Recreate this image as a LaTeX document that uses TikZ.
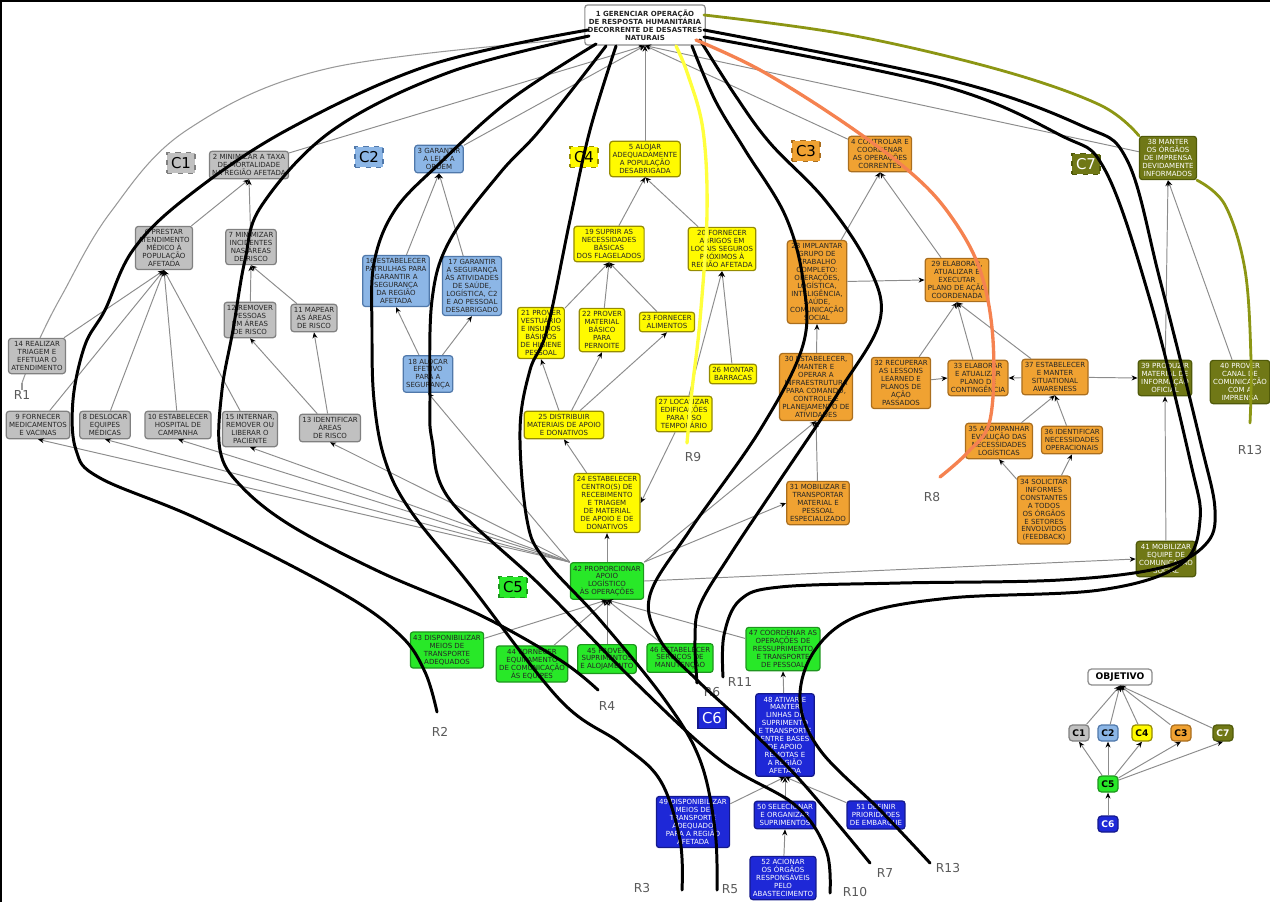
\documentclass[tikz,border=0pt]{standalone}
\usepackage{fontspec}
\setmainfont{DejaVu Sans}
\usetikzlibrary{arrows.meta,positioning}
\definecolor{cgray}{RGB}{192,192,192}
\definecolor{cgrayd}{RGB}{128,128,128}
\definecolor{cblue}{RGB}{140,182,230}
\definecolor{cblued}{RGB}{80,120,170}
\definecolor{cyellow}{RGB}{255,250,0}
\definecolor{cyellowd}{RGB}{150,140,0}
\definecolor{corange}{RGB}{240,162,50}
\definecolor{coranged}{RGB}{170,110,30}
\definecolor{colive}{RGB}{112,120,22}
\definecolor{colived}{RGB}{80,90,10}
\definecolor{cgreen}{RGB}{40,232,40}
\definecolor{cgreend}{RGB}{30,150,30}
\definecolor{cnavy}{RGB}{30,40,215}
\definecolor{cnavyd}{RGB}{20,25,140}
\definecolor{rsalmon}{RGB}{245,130,80}
\definecolor{ryellow}{RGB}{255,255,60}
\definecolor{rolive}{RGB}{140,150,20}
\newcommand{\nodefont}{\fontsize{4}{4.5}\selectfont}

\begin{document}
\begin{tikzpicture}[x=0.02cm, y=-0.02cm,
    box/.style={draw, rounded corners=1.6pt, align=center, font=\nodefont,
                inner xsep=1.6pt, inner ysep=1.8pt, line width=0.7pt, text=black!85},
    mortal/.style={box, fill=cgray, draw=cgrayd},
    lei/.style={box, fill=cblue, draw=cblued},
    alojar/.style={box, fill=cyellow, draw=cyellowd},
    controle/.style={box, fill=corange, draw=coranged},
    imprensa/.style={box, fill=colive, draw=colived, text=white},
    apoio/.style={box, fill=cgreen, draw=cgreend},
    linhas/.style={box, fill=cnavy, draw=cnavyd, text=white},
    tagbox/.style={draw, dashed, line width=0.6pt, minimum width=0.56cm,
                   minimum height=0.42cm, inner sep=0pt, font=\fontsize{8.5}{8.5}\selectfont},
    legbox/.style={draw, rounded corners=2pt, line width=0.7pt, minimum width=0.4cm,
                   minimum height=0.32cm, inner sep=0pt, font=\bfseries\fontsize{5.2}{5.2}\selectfont},
    arr/.style={draw=black!45, line width=0.55pt, -{Stealth[length=1.2mm, width=1mm, color=black]}},
    rota/.style={line width=1.7pt, line cap=round, line join=round},
    rlab/.style={font=\fontsize{7}{7}\selectfont, text=black!65, inner sep=0pt}
]
\useasboundingbox (0,0) rectangle (1270,902);
\draw[line width=1.2pt] (1,902) -- (1,1) -- (1270,1);

% R1 runs behind node 14
\coordinate (r1e) at (22,383);
\draw[black!40, line width=0.6pt] plot[smooth, tension=0.6] coordinates {(r1e) (28,367) (40,338) (62,295) (110,213) (187,130) (330,68) (588,38)};

% Objective
\node[box, fill=white, draw=black!45, font=\nodefont\bfseries, minimum width=2.32cm,
      minimum height=0.8cm] (root) at (645,25)
  {1 GERENCIAR OPERAÇÃO\\DE RESPOSTA HUMANITÁRIA\\DECORRENTE DE DESASTRES\\NATURAIS};

% C1
\node[tagbox, fill=cgray, draw=cgrayd] (tc1) at (181,163) {C1};
\node[mortal] (n2) at (249,165) {2 MINIMIZAR A TAXA\\DE MORTALIDADE\\NA REGIÃO AFETADA};
\node[mortal] (n6) at (164,248) {6 PRESTAR\\ATENDIMENTO\\MÉDICO À\\POPULAÇÃO\\AFETADA};
\node[mortal] (n7) at (251,247) {7 MINIMIZAR\\INCIDENTES\\NAS ÁREAS\\DE RISCO};
\node[mortal] (n12) at (250,320) {12 REMOVER\\PESSOAS\\EM ÁREAS\\DE RISCO};
\node[mortal] (n11) at (314,318) {11 MAPEAR\\AS ÁREAS\\DE RISCO};
\node[mortal] (n14) at (37,356) {14 REALIZAR\\TRIAGEM E\\EFETUAR O\\ATENDIMENTO};
\node[mortal] (n9) at (38,425) {9 FORNECER\\MEDICAMENTOS\\E VACINAS};
\node[mortal] (n8) at (105,425) {8 DESLOCAR\\EQUIPES\\MÉDICAS};
\node[mortal] (n10) at (178,425) {10 ESTABELECER\\HOSPITAL DE\\CAMPANHA};
\node[mortal] (n15) at (250,429) {15 INTERNAR,\\REMOVER OU\\LIBERAR O\\PACIENTE};
\node[mortal] (n13) at (330,428) {13 IDENTIFICAR\\ÁREAS\\DE RISCO};

% C2
\node[tagbox, fill=cblue, draw=cblued] (tc2) at (369,157) {C2};
\node[lei] (n3) at (439,159) {3 GARANTIR\\A LEI E A\\ORDEM};
\node[lei] (n16) at (396,281) {16 ESTABELECER\\PATRULHAS PARA\\GARANTIR A\\SEGURANÇA\\DA REGIÃO\\AFETADA};
\node[lei] (n17) at (472,286) {17 GARANTIR\\A SEGURANÇA\\ÀS ATIVIDADES\\DE SAÚDE,\\LOGÍSTICA, C2\\E AO PESSOAL\\DESABRIGADO};
\node[lei] (n18) at (428,374) {18 ALOCAR\\EFETIVO\\PARA A\\SEGURANÇA};

% C4
\node[tagbox, fill=cyellow, draw=cyellowd] (tc4) at (584,157) {C4};
\node[alojar] (n5) at (645,159) {5 ALOJAR\\ADEQUADAMENTE\\A POPULAÇÃO\\DESABRIGADA};
\node[alojar] (n19) at (609,244) {19 SUPRIR AS\\NECESSIDADES\\BÁSICAS\\DOS FLAGELADOS};
\node[alojar] (n20) at (722,249) {20 FORNECER\\ABRIGOS EM\\LOCAIS SEGUROS\\PRÓXIMOS À\\REGIÃO AFETADA};
\node[alojar] (n21) at (541,333) {21 PROVER\\VESTUÁRIO\\E INSUMOS\\BÁSICOS\\DE HIGIENE\\PESSOAL};
\node[alojar] (n22) at (602,330) {22 PROVER\\MATERIAL\\BÁSICO\\PARA\\PERNOITE};
\node[alojar] (n23) at (667,322) {23 FORNECER\\ALIMENTOS};
\node[alojar] (n26) at (733,374) {26 MONTAR\\BARRACAS};
\node[alojar] (n25) at (564,425) {25 DISTRIBUIR\\MATERIAIS DE APOIO\\E DONATIVOS};
\node[alojar] (n27) at (684,414) {27 LOCALIZAR\\EDIFICAÇÕES\\PARA USO\\TEMPORÁRIO};
\node[alojar] (n24) at (607,503) {24 ESTABELECER\\CENTRO(S) DE\\RECEBIMENTO\\E TRIAGEM\\DE MATERIAL\\DE APOIO E DE\\DONATIVOS};

% C3
\node[tagbox, fill=corange, draw=coranged] (tc3) at (806,151) {C3};
\node[controle] (n4) at (880,154) {4 CONTROLAR E\\COORDENAR\\AS OPERAÇÕES\\CORRENTES};
\node[controle] (n28) at (817,282) {28 IMPLANTAR\\GRUPO DE\\TRABALHO\\COMPLETO:\\OPERAÇÕES,\\LOGÍSTICA,\\INTELIGÊNCIA,\\SAÚDE,\\COMUNICAÇÃO\\SOCIAL};
\node[controle] (n29) at (957,280) {29 ELABORAR,\\ATUALIZAR E\\EXECUTAR\\PLANO DE AÇÃO\\COORDENADA};
\node[controle] (n30) at (816,387) {30 ESTABELECER,\\MANTER E\\OPERAR A\\INFRAESTRUTURA\\PARA COMANDO,\\CONTROLE E\\PLANEJAMENTO DE\\ATIVIDADES};
\node[controle] (n32) at (901,383) {32 RECUPERAR\\AS LESSONS\\LEARNED E\\PLANOS DE\\AÇÃO\\PASSADOS};
\node[controle] (n33) at (978,378) {33 ELABORAR\\E ATUALIZAR\\PLANO DE\\CONTINGÊNCIA};
\node[controle] (n37) at (1055,377) {37 ESTABELECER\\E MANTER\\SITUATIONAL\\AWARENESS};
\node[controle] (n35) at (999,441) {35 ACOMPANHAR\\EVOLUÇÃO DAS\\NECESSIDADES\\LOGÍSTICAS};
\node[controle] (n36) at (1072,440) {36 IDENTIFICAR\\NECESSIDADES\\OPERACIONAIS};
\node[controle] (n31) at (818,503) {31 MOBILIZAR E\\TRANSPORTAR\\MATERIAL E\\PESSOAL\\ESPECIALIZADO};
\node[controle] (n34) at (1044,510) {34 SOLICITAR\\INFORMES\\CONSTANTES\\A TODOS\\OS ÓRGÃOS\\E SETORES\\ENVOLVIDOS\\(FEEDBACK)};

% C7
\node[tagbox, fill=colive, draw=colived, text=white] (tc7) at (1086,164) {C7};
\node[imprensa] (n38) at (1168,158) {38 MANTER\\OS ÓRGÃOS\\DE IMPRENSA\\DEVIDAMENTE\\INFORMADOS};
\node[imprensa] (n39) at (1165,378) {39 PRODUZIR\\MATERIAL DE\\INFORMAÇÃO\\OFICIAL};
\node[imprensa] (n40) at (1240,382) {40 PROVER\\CANAL DE\\COMUNICAÇÃO\\COM A\\IMPRENSA};
\node[imprensa] (n41) at (1166,559) {41 MOBILIZAR\\EQUIPE DE\\COMUNICAÇÃO\\SOCIAL};

% C5
\node[tagbox, fill=cgreen, draw=cgreend] (tc5) at (513,587) {C5};
\node[apoio] (n42) at (607,581) {42 PROPORCIONAR\\APOIO\\LOGÍSTICO\\ÀS OPERAÇÕES};
\node[apoio] (n43) at (447,650) {43 DISPONIBILIZAR\\MEIOS DE\\TRANSPORTE\\ADEQUADOS};
\node[apoio] (n44) at (532,664) {44 FORNECER\\EQUIPAMENTO\\DE COMUNICAÇÃO\\ÀS EQUIPES};
\node[apoio] (n45) at (607,659) {45 PROVER\\SUPRIMENTOS\\E ALOJAMENTO};
\node[apoio] (n46) at (680,658) {46 ESTABELECER\\SERVIÇOS DE\\MANUTENÇÃO};
\node[apoio] (n47) at (783,649) {47 COORDENAR AS\\OPERAÇÕES DE\\RESSUPRIMENTO\\E TRANSPORTE\\DE PESSOAL};

% C6
\node[tagbox, solid, fill=cnavy, draw=cnavyd, text=white] (tc6) at (712,718) {C6};
\node[linhas] (n48) at (785,735) {48 ATIVAR E\\MANTER\\LINHAS DE\\SUPRIMENTO\\E TRANSPORTE\\ENTRE BASES\\DE APOIO\\REMOTAS E\\A REGIÃO\\AFETADA};
\node[linhas] (n49) at (693,822) {49 DISPONIBILIZAR\\MEIOS DE\\TRANSPORTE\\ADEQUADO\\PARA A REGIÃO\\AFETADA};
\node[linhas] (n50) at (785,815) {50 SELECIONAR\\E ORGANIZAR\\SUPRIMENTOS};
\node[linhas] (n51) at (876,815) {51 DEFINIR\\PRIORIDADES\\DE EMBARQUE};
\node[linhas] (n52) at (783,878) {52 ACIONAR\\OS ÓRGÃOS\\RESPONSÁVEIS\\PELO\\ABASTECIMENTO};

% Legend
\node[legbox, fill=white, draw=black!45, minimum width=1.28cm] (obj) at (1120,677) {OBJETIVO};
\node[legbox, fill=cgray, draw=cgrayd] (l1) at (1079,733) {C1};
\node[legbox, fill=cblue, draw=cblued] (l2) at (1108,733) {C2};
\node[legbox, fill=cyellow, draw=cyellowd] (l4) at (1142,733) {C4};
\node[legbox, fill=corange, draw=coranged] (l3) at (1181,733) {C3};
\node[legbox, fill=colive, draw=colived, text=white] (l7) at (1223,733) {C7};
\node[legbox, fill=cgreen, draw=cgreend] (l5) at (1108,784) {C5};
\node[legbox, fill=cnavy, draw=cnavyd, text=white] (l6) at (1108,824) {C6};

% Arrows
\foreach \a in {n2,n3,n5,n4,n38} {
  \draw[arr] (\a) -- (root.south);
}
\foreach \a/\b in {n6/n2, n7/n2, n12/n7, n11/n7, n14/n6, n9/n6, n8/n6, n10/n6, n15/n6,
                   n13/n12, n13/n11, n16/n3, n17/n3, n18/n16, n18/n17, n19/n5, n20/n5,
                   n21/n19, n22/n19, n23/n19, n25/n21, n25/n22, n25/n23, n26/n20, n27/n20,
                   n24/n25, n28/n4, n29/n4, n30/n28, n31/n30, n32/n29, n33/n29, n37/n29,
                   n35/n37, n36/n37, n34/n35, n34/n36, n39/n38, n40/n38, n41/n39,
                   n43/n42, n44/n42, n45/n42, n46/n42, n47/n42, n48/n47,
                   n49/n48, n50/n48, n51/n48, n52/n50} {
  \draw[arr] (\a) -- (\b.south);
}
\draw[arr] (n27) -- (n24.east);
\draw[arr] (n28) -- (n29.west);
\draw[arr] (n32) -- (n33.west);
\draw[arr] (n37) -- (n33.east);
\draw[arr] (n37) -- (n39.west);
\foreach \b in {n9,n8,n10,n15,n13,n18} {
  \draw[arr] (n42.north west) -- (\b.south);
}
\draw[arr] (n42) -- (n24.south);
\draw[arr] (n42.north east) -- (n30.south);
\draw[arr] (n42.north east) -- (n31.west);
\draw[arr] (n42.east) -- (n41.west);
\foreach \c in {l1,l2,l4,l3,l7} {
  \draw[arr] (\c) -- (obj.south);
  \draw[arr] (l5) -- (\c.south);
}
\draw[arr] (l6) -- (l5);

% Route labels
\node[rlab] (lr1) at (22,395) {R1};
\node[rlab] (lr2) at (440,732) {R2};
\node[rlab] (lr4) at (607,706) {R4};
\node[rlab] (lr6) at (712,692) {R6};
\node[rlab] (lr11) at (740,682) {R11};
\node[rlab] (lr9) at (693,457) {R9};
\node[rlab] (lr8) at (932,497) {R8};
\node[rlab] (lr13a) at (1250,450) {R13};
\node[rlab] (lr3) at (642,888) {R3};
\node[rlab] (lr5) at (730,889) {R5};
\node[rlab] (lr10) at (855,892) {R10};
\node[rlab] (lr7) at (885,873) {R7};
\node[rlab] (lr13b) at (948,868) {R13};

% Routes
\coordinate (r2e) at (437,712);
\coordinate (r4e) at (598,690);
\coordinate (r3e) at (682,890);
\coordinate (r10e) at (830,893);
\coordinate (r5e) at (717,890);
\coordinate (r6e) at (697,683);
\coordinate (r7e) at (870,863);
\coordinate (r11e) at (723,677);
\coordinate (r13e) at (930,863);
\coordinate (r8e) at (940,477);
\coordinate (r9e) at (687,443);
\coordinate (r13o) at (1250,423);

\draw[rota] plot[smooth, tension=0.6] coordinates {(r2e) (425,672) (400,635) (340,592) (200,520) (100,478) (76,450) (73,400) (85,345) (105,310) (133,250) (187,197) (287,130) (430,65) (588,30)};
\draw[rota] plot[smooth, tension=0.6] coordinates {(r4e) (560,660) (480,615) (380,572) (290,525) (240,485) (220,450) (222,390) (233,330) (245,260) (262,205) (333,130) (450,72) (589,36)};
\draw[rota] plot[smooth, tension=0.6] coordinates {(r3e) (680,840) (660,780) (620,743) (560,700) (470,585) (410,510) (385,460) (374,400) (372,330) (374,263) (395,210) (440,163) (510,100) (596,44)};
\draw[rota] plot[smooth, tension=0.6] coordinates {(r10e) (826,850) (795,805) (720,760) (633,680) (540,585) (450,500) (432,440) (430,397) (432,300) (450,240) (500,173) (540,130) (606,46)};
\draw[rota] plot[smooth, tension=0.6] coordinates {(r5e) (715,830) (700,760) (665,700) (600,620) (545,560) (527,520) (520,430) (530,370) (547,330) (570,220) (590,130) (616,46)};
\draw[rota] plot[smooth, tension=0.6] coordinates {(r6e) (695,640) (700,605) (730,555) (780,480) (840,390) (880,320) (868,265) (825,200) (770,143) (735,95) (700,40)};
\draw[rota] plot[smooth, tension=0.6] coordinates {(r7e) (800,780) (740,720) (697,680) (660,640) (650,595) (690,530) (760,430) (803,345) (803,280) (785,215) (745,150) (715,100) (692,46)};
\draw[rota] plot[smooth, tension=0.6] coordinates {(r11e) (724,635) (740,600) (780,587) (900,583) (1060,580) (1160,568) (1205,545) (1215,510) (1200,440) (1160,280) (1127,160) (1080,125) (950,80) (704,30)};
\draw[rota] plot[smooth, tension=0.6] coordinates {(r13e) (880,810) (820,750) (800,700) (815,650) (860,615) (950,598) (1100,590) (1180,565) (1200,520) (1190,460) (1150,300) (1105,170) (1060,135) (940,85) (704,37)};
\draw[rota, draw=rsalmon, line width=1.9pt] plot[smooth, tension=0.6] coordinates {(r8e) (968,452) (990,420) (993,340) (980,270) (950,215) (910,172) (840,120) (760,70) (696,40)};
\draw[rota, draw=ryellow, line width=1.9pt] plot[smooth, tension=0.6] coordinates {(r9e) (692,390) (700,320) (707,213) (703,130) (688,75) (676,46)};
\draw[rota, draw=rolive, line width=1.6pt] plot[smooth, tension=0.6] coordinates {(704,15) (850,35) (1000,70) (1100,105) (n38.north west)};
\draw[rota, draw=rolive, line width=1.6pt] plot[smooth, tension=0.6] coordinates {(n38.south east) (1225,205) (1245,270) (1251,360) (r13o)};
\draw[black!40, line width=0.6pt] (r1e) -- (lr1.north);

\end{tikzpicture}
\end{document}
